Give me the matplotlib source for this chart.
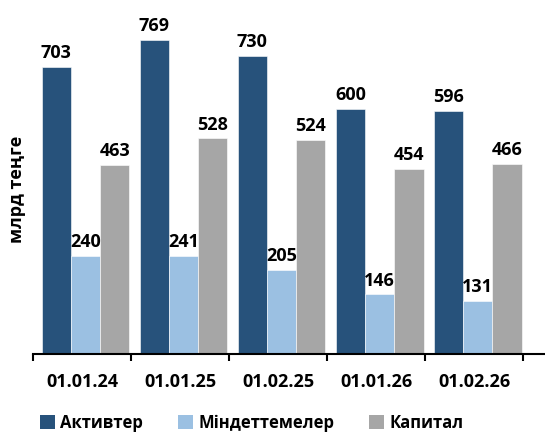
import matplotlib
matplotlib.use("Agg")
import matplotlib.pyplot as plt
import numpy as np
from matplotlib.patches import Patch

plt.rcParams['font.family'] = ['Open Sans', 'DejaVu Sans']
plt.rcParams['font.weight'] = 'bold'

dates = ["01.01.24", "01.01.25", "01.02.25", "01.01.26", "01.02.26"]
series_names = ["Активтер", "Міндеттемелер", "Капитал"]
assets = [703, 769, 730, 600, 596]
liabilities = [240, 241, 205, 146, 131]
capital = [463, 528, 524, 454, 466]
colors = ["#27527B", "#9BC0E2", "#A6A6A6"]

fig = plt.figure(figsize=(5.45, 4.37), dpi=100)
ax = fig.add_axes([33 / 545, 83 / 437, 512 / 545, 354 / 437])

x = np.arange(len(dates))
w = 0.298
shift = 0.035
for i, (vals, col) in enumerate(zip([assets, liabilities, capital], colors)):
    pos = x + shift + (i - 1) * w
    ax.bar(pos, vals, width=w, color=col, edgecolor="white", linewidth=0.4, zorder=2)
    for p, v in zip(pos, vals):
        ax.annotate(str(v), (p, v), xytext=(0, 3.5), textcoords="offset points",
                    ha="center", va="bottom", fontsize=13, fontweight="bold")

ax.set_xlim(-0.5, 4.72)
ax.set_ylim(0, 867)
ax.set_yticks([])
for s in ["top", "right", "left"]:
    ax.spines[s].set_visible(False)
ax.spines["bottom"].set_linewidth(1.5)
ax.spines["bottom"].set_color("black")

ax.set_xticks(x)
ax.set_xticklabels(dates, fontsize=13, fontweight="bold")
ax.tick_params(axis="x", which="major", length=0, pad=14)
ax.set_xticks(np.arange(-0.5, 5.0, 1.0), minor=True)
ax.tick_params(axis="x", which="minor", length=5, width=1.5, direction="out")

fig.text(17 / 545, 1 - 189 / 437, "млрд теңге", rotation=90, ha="center", va="center",
         fontsize=13, fontweight="bold")

handles = [Patch(facecolor=c, edgecolor="none") for c in colors]
fig.legend(handles, series_names, loc="center", bbox_to_anchor=(0.462, 1 - 423 / 437),
           ncol=3, frameon=False, handlelength=0.9, handleheight=0.9,
           handletextpad=0.3, columnspacing=2.1, prop={"weight": "bold", "size": 12})

fig.savefig("out.png", dpi=100)
